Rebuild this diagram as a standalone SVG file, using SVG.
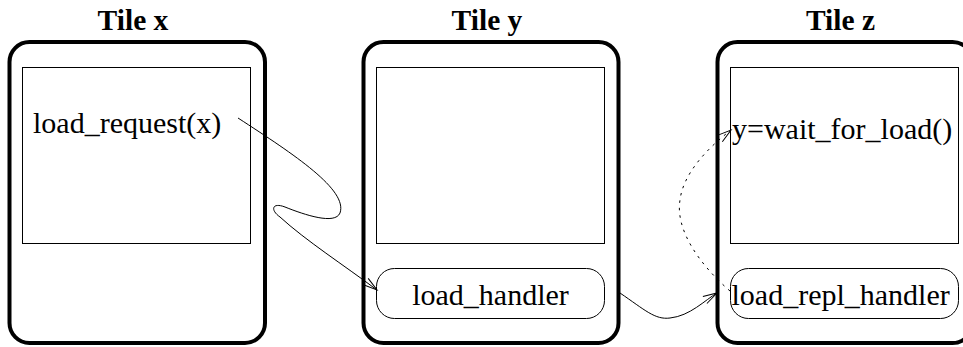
<svg xmlns="http://www.w3.org/2000/svg" width="963" height="347" viewBox="0 0 963 347">
<style>
.tile{fill:none;stroke:#000;stroke-width:4}
.inner{fill:#fff;stroke:#000;stroke-width:1}
.handler{fill:#fff;stroke:#000;stroke-width:1}
.title{font-weight:bold;font-size:29.5px;text-anchor:middle;fill:#000}
.lbl{font-size:30px;fill:#000}
.conn{fill:none;stroke:#000;stroke-width:1}
.dot{stroke-dasharray:2.5,5}
</style>
<defs>
<marker id="arr" markerUnits="userSpaceOnUse" markerWidth="16" markerHeight="12" refX="14" refY="5" orient="auto" overflow="visible">
<path d="M0,1 L14,5 L0,9" fill="none" stroke="#000" stroke-width="1"/>
</marker>
</defs>
<rect width="963" height="347" fill="#fff"/>
<g font-family="Liberation Serif, Times New Roman, Times, serif">
<g id="tile-x">
<text class="title" x="133" y="30">Tile x</text>
<rect class="tile" x="9.5" y="42" width="255.5" height="301" rx="20"/>
<rect class="inner" x="22.5" y="67.5" width="228" height="176"/>
<text class="lbl" x="33" y="133">load_request(x)</text>
</g>
<g id="tile-y">
<text class="title" x="487" y="30">Tile y</text>
<rect class="tile" x="363.5" y="42" width="255" height="301" rx="20"/>
<rect class="inner" x="376.5" y="67.5" width="228" height="176"/>
<g id="load-handler">
<rect class="handler" x="376.5" y="268.5" width="228" height="50" rx="18"/>
<text class="lbl" x="490.5" y="305" text-anchor="middle">load_handler</text>
</g>
</g>
<g id="tile-z">
<text class="title" x="840.5" y="30">Tile z</text>
<rect class="tile" x="717.5" y="42" width="255" height="301" rx="20"/>
<rect class="inner" x="730.5" y="67.5" width="228" height="176"/>
<text class="lbl" x="732" y="139">y=wait_for_load()</text>
<g id="load-repl-handler">
<rect class="handler" x="730.5" y="268.5" width="228" height="50" rx="18"/>
<text class="lbl" x="731.5" y="305">load_repl_handler</text>
</g>
</g>
</g>
<g id="connectors">
<path class="conn" marker-end="url(#arr)" d="M238,118 C295,155 348,190 340,213 C335,225 305,215 285,207 C272,202 270,210 280,217 C305,240 345,266 377,290"/>
<path class="conn" marker-end="url(#arr)" d="M620,293 C645,310 655,320 670,318 C690,316 705,300 717,293"/>
<path class="conn dot" marker-end="url(#arr)" d="M730,291 C700,265 675,230 680,200 C683,175 705,150 731,130"/>
</g>
</svg>
